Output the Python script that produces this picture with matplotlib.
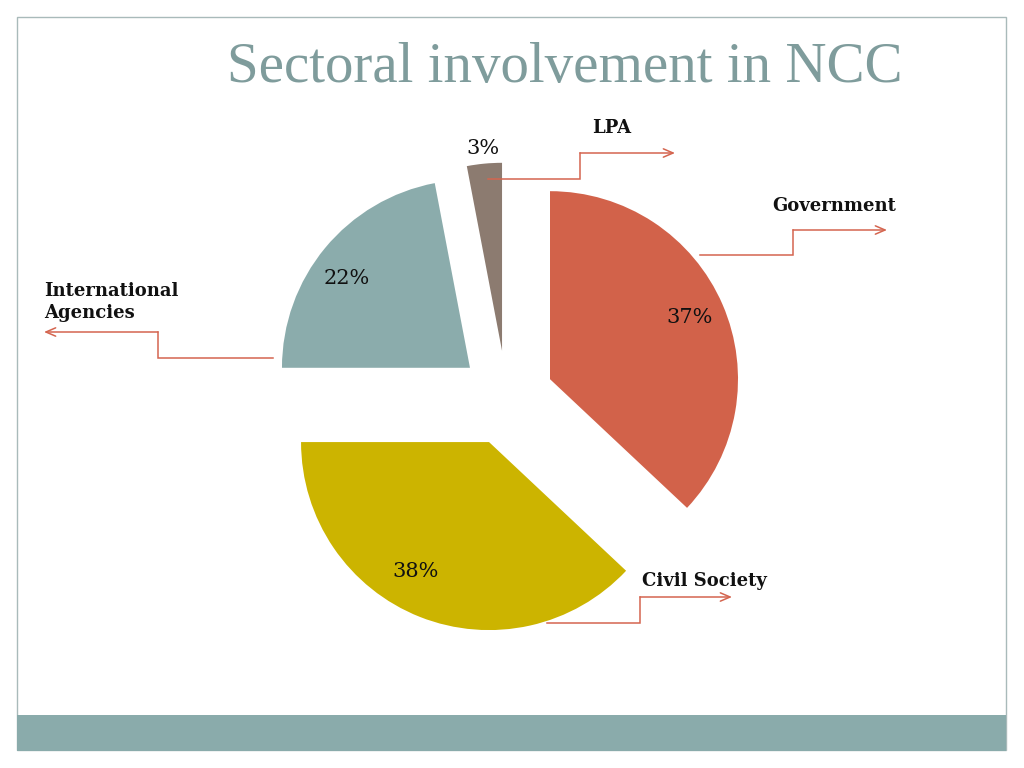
import matplotlib
matplotlib.use("Agg")
import matplotlib.pyplot as plt
from matplotlib.patches import Rectangle
import numpy as np

# ---- data ----
categories = ["Government", "Civil Society", "International\nAgencies", "LPA"]
values = [37, 38, 22, 3]
colors = ["#D2624A", "#CCB400", "#8BACAC", "#8C7B70"]
title = "Sectoral involvement in NCC"

W, H = 1024, 768
fig = plt.figure(figsize=(W / 100, H / 100), dpi=100)
ax = fig.add_axes([0, 0, 1, 1])

def Y(y):
    return H - y

R = 188
center = (506.5, Y(398))
explode = [47.4] * len(values)

wedges, texts, autotexts = ax.pie(
    values, colors=colors, startangle=90, counterclock=False,
    radius=R, center=center, explode=explode,
    autopct="%1.0f%%", pctdistance=0.8,
    wedgeprops=dict(linewidth=0),
    textprops=dict(family="DejaVu Serif", fontsize=15, color="#111111"),
)

# per-slice label distances (fraction of radius from wedge apex) and angle tweaks
pct_dist = [0.81, 0.79, 0.81, 1.08]
ang_shift = [0.5, -8.0, 3.6, 0.0]
for w, t, d, s in zip(wedges, autotexts, pct_dist, ang_shift):
    th = np.deg2rad((w.theta1 + w.theta2) / 2 + s)
    cx, cy = w.center
    t.set_position((cx + d * R * np.cos(th), cy + d * R * np.sin(th)))
    t.set_ha("center")
    t.set_va("center")

ax.set_xlim(0, W)
ax.set_ylim(0, H)
ax.set_aspect("equal")
ax.axis("off")

# slide frame and bottom bar
ax.add_patch(Rectangle((17, Y(750)), 989, 733, fill=False, edgecolor="#A9BABA", lw=1.0, zorder=0))
ax.add_patch(Rectangle((17, Y(751)), 989, 36, facecolor="#8AABAB", edgecolor="none", zorder=1))

ax.text(565, Y(68), title, family="Liberation Serif", fontsize=41, color="#7F9C9C",
        ha="center", va="center")

line_c = "#D4654F"
label_font = dict(family="DejaVu Serif", fontsize=13, fontweight="bold", color="#111111")

# leader polylines: (points, label position, label alignment)
leaders = [
    ([(700, 255), (793, 255), (793, 230), (887, 230)], (834, 206), "center"),   # Government
    ([(547, 623), (640, 623), (640, 597), (732, 597)], (704, 581), "center"),   # Civil Society
    ([(273, 358), (158, 358), (158, 332), (44, 332)], (44, 302), "left"),       # Intl Agencies
    ([(488, 179), (580, 179), (580, 153), (675, 153)], (612, 128), "center"),   # LPA
]

for cat, (pts, lpos, ha) in zip(categories, leaders):
    xs = [p[0] for p in pts]
    ys = [Y(p[1]) for p in pts]
    ax.plot(xs[:-1], ys[:-1], color=line_c, lw=1.1, solid_joinstyle="miter")
    ax.annotate("", xy=(xs[-1], ys[-1]), xytext=(xs[-2], ys[-2]),
                arrowprops=dict(arrowstyle="->,head_length=0.7,head_width=0.3",
                                color=line_c, lw=1.1, shrinkA=0, shrinkB=0))
    ax.text(lpos[0], Y(lpos[1]), cat, ha=ha, va="center", linespacing=1.35, **label_font)

fig.savefig("out.png", dpi=100)
